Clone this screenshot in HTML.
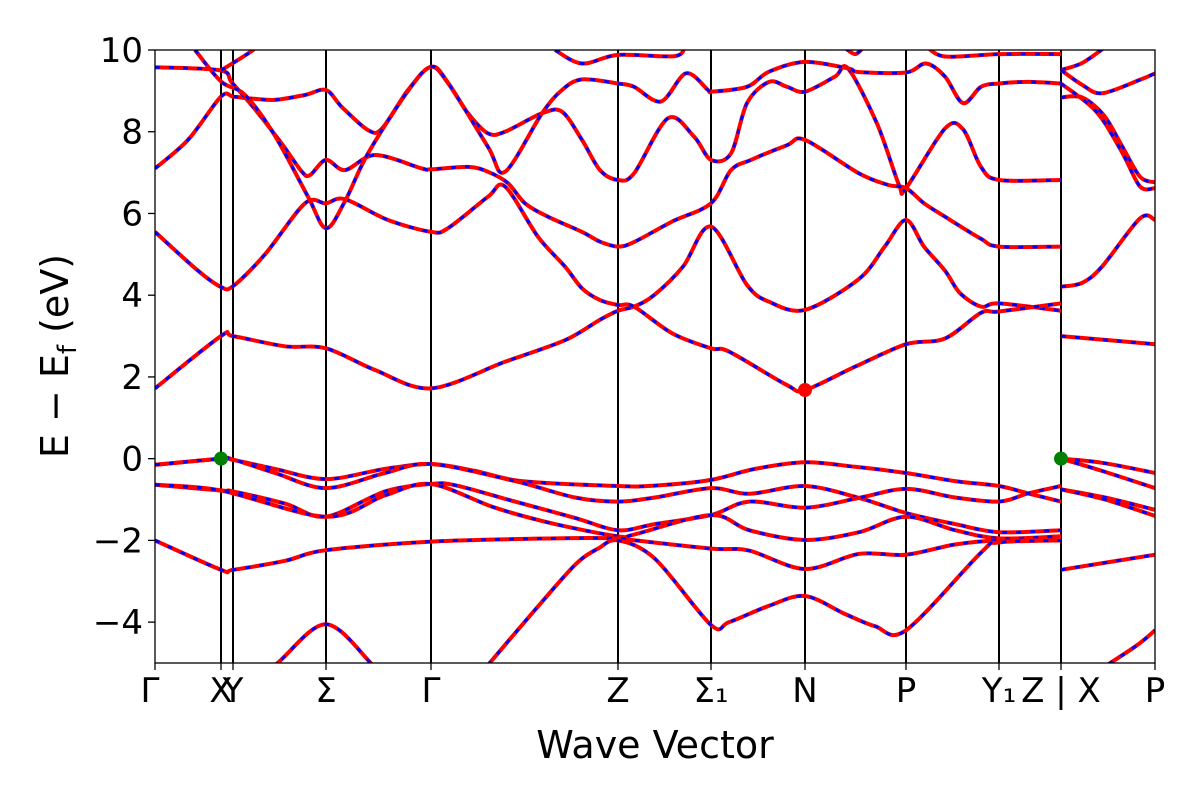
<!DOCTYPE html>
<html><head><meta charset="utf-8"><style>
html,body{margin:0;padding:0;background:#fff;width:1200px;height:800px;overflow:hidden}
svg text{font-family:"DejaVu Sans","Liberation Sans",sans-serif;fill:#000}
</style></head><body>
<svg id="chart" width="1200" height="800" viewBox="0 0 1200 800" xmlns="http://www.w3.org/2000/svg">
<defs><clipPath id="clip"><rect x="155" y="50" width="1000" height="613"/></clipPath></defs>
<g id="kpaths"></g>
<g id="bands" clip-path="url(#clip)"></g>
<g id="dots"></g>
<rect x="155" y="50" width="1000" height="613" fill="none" stroke="#000" stroke-width="1.3"/>
<g id="yticks"></g>
<g id="xticks"></g>
<text x="655" y="758" font-size="38" text-anchor="middle">Wave Vector</text>
<text transform="translate(68,356) rotate(-90)" font-size="38" text-anchor="middle">E − E<tspan font-size="26" dy="8">f</tspan><tspan dy="-8"> (eV)</tspan></text>
</svg>
<script>
const kTicks=[0,0.66,0.78,1.71,2.76,4.63,5.56,6.50,7.51,8.44,9.06,10];
const kLabels=["Γ","X","Y","Σ","Γ","Z","Σ₁","N","P","Y₁","Z | X","P"];
const yTickValues=[-4,-2,0,2,4,6,8,10];
const yMin=-5, yMax=10, kMin=0, kMax=10;
const bandsMain=[
[[0,1.72],[0.66,3.0],[0.78,3.0],[1.3,2.75],[1.71,2.7],[2.2,2.17],[2.76,1.72],[3.5,2.37],[4.1,2.9],[4.45,3.4],[4.63,3.62],[4.79,3.72],[4.99,4.0],[5.28,4.7],[5.56,5.68],[5.92,4.25],[6.14,3.84],[6.5,3.64],[7.04,4.4],[7.3,5.2],[7.51,5.84],[7.69,5.19],[7.9,4.6],[8.05,4.05],[8.26,3.72],[8.44,3.8],[9.06,3.62]],
[[0,5.55],[0.43,4.6],[0.66,4.2],[0.78,4.22],[1.1,5.0],[1.5,6.25],[1.71,6.25],[1.9,6.35],[2.33,5.84],[2.76,5.55],[2.93,5.64],[3.33,6.41],[3.5,6.66],[3.83,5.43],[4.1,4.7],[4.27,4.17],[4.45,3.88],[4.63,3.76],[4.79,3.72],[5.17,3.07],[5.56,2.7],[5.74,2.62],[6.32,1.8],[6.5,1.68],[7.0,2.25],[7.51,2.8],[7.9,2.94],[8.26,3.57],[8.44,3.6],[9.06,3.8]],
[[0,7.1],[0.33,7.8],[0.66,8.86],[0.78,8.86],[0.93,8.82],[1.2,8.78],[1.5,8.9],[1.71,9.02],[1.87,8.6],[2.13,8.04],[2.27,8.08],[2.53,9.02],[2.76,9.59],[2.93,9.19],[3.13,8.45],[3.33,7.96],[3.5,8.0],[3.87,8.45],[4.07,8.49],[4.27,7.8],[4.45,7.06],[4.63,6.82],[4.79,6.98],[5.13,8.33],[5.39,7.88],[5.56,7.31],[5.76,7.47],[5.92,8.7],[6.14,9.22],[6.32,9.1],[6.5,8.98],[6.8,9.35],[6.93,9.55],[7.22,8.2],[7.44,6.7],[7.51,6.62],[7.9,8.08],[8.08,8.06],[8.26,7.14],[8.44,6.82],[9.06,6.82]],
[[0,9.58],[0.66,9.5],[0.77,9.2],[1.0,8.55],[1.27,7.7],[1.47,7.02],[1.55,6.94],[1.71,7.31],[1.9,7.06],[2.2,7.43],[2.67,7.1],[2.76,7.08],[3.13,7.14],[3.33,7.02],[3.53,6.74],[3.7,6.25],[3.93,5.92],[4.27,5.55],[4.45,5.31],[4.63,5.19],[4.79,5.3],[5.17,5.8],[5.56,6.25],[5.76,7.06],[5.96,7.31],[6.32,7.67],[6.5,7.8],[7.04,6.98],[7.33,6.7],[7.51,6.62],[7.69,6.25],[7.9,5.92],[8.26,5.38],[8.44,5.19],[9.06,5.19]],
[[0.4,10.0],[0.66,9.23],[0.9,8.9],[1.2,7.9],[1.53,6.41],[1.71,5.64],[1.9,6.3],[2.13,7.47],[2.53,9.0],[2.76,9.59],[2.93,9.2],[3.33,7.63],[3.5,7.02],[3.87,8.45],[4.07,9.02],[4.27,9.28],[4.63,9.18],[4.79,9.1],[5.06,8.74],[5.31,9.43],[5.53,9.02],[5.56,8.98],[5.92,9.1],[6.14,9.47],[6.5,9.71],[6.93,9.55],[7.04,9.46],[7.51,9.45],[7.71,9.67],[7.9,9.35],[8.08,8.7],[8.26,9.1],[8.44,9.18],[8.73,9.22],[9.06,9.18]],
[[0.66,9.5],[0.97,9.98],[1.1,10.3]],
[[4.0,10.0],[4.27,9.67],[4.63,9.88],[5.2,9.85],[5.3,10.1]],
[[7.71,10.1],[7.9,9.84],[8.44,9.9],[9.06,9.9]],
[[6.9,10.05],[7.0,9.9],[7.08,10.05]],
[[0,-0.15],[0.66,0],[0.78,-0.03],[1.2,-0.25],[1.71,-0.5],[2.3,-0.25],[2.76,-0.13],[3.2,-0.3],[3.67,-0.55],[4.63,-0.67],[5.0,-0.66],[5.56,-0.52],[6.0,-0.25],[6.5,-0.09],[7.0,-0.2],[7.51,-0.35],[8.0,-0.55],[8.44,-0.67],[8.73,-0.85],[9.06,-1.05]],
[[0,-0.15],[0.66,0],[0.78,-0.02],[1.2,-0.35],[1.71,-0.72],[2.3,-0.35],[2.76,-0.13],[3.6,-0.55],[4.2,-0.95],[4.63,-1.05],[5.0,-0.95],[5.56,-0.72],[5.94,-0.86],[6.5,-0.67],[7.04,-0.96],[7.51,-1.33],[8.0,-1.6],[8.44,-1.8],[9.06,-1.75]],
[[0,-0.64],[0.66,-0.78],[0.78,-0.8],[1.3,-1.1],[1.71,-1.42],[2.3,-0.8],[2.76,-0.62],[3.0,-0.65],[3.6,-1.05],[4.2,-1.45],[4.63,-1.75],[5.0,-1.6],[5.56,-1.38],[5.94,-1.05],[6.5,-1.2],[7.04,-0.96],[7.51,-0.74],[8.0,-0.95],[8.44,-1.05],[8.73,-0.85],[9.06,-0.67]],
[[0,-0.64],[0.66,-0.78],[1.71,-1.42],[2.3,-0.9],[2.76,-0.62],[3.4,-1.2],[4.0,-1.6],[4.63,-1.9],[4.8,-1.85],[5.56,-1.38],[5.94,-1.75],[6.5,-1.99],[7.04,-1.8],[7.51,-1.42],[8.0,-1.75],[8.44,-1.95],[9.06,-1.9]],
[[0,-2.0],[0.66,-2.72],[0.78,-2.72],[1.3,-2.5],[1.71,-2.24],[2.76,-2.03],[4.0,-1.95],[4.63,-1.95],[4.8,-2.0],[5.56,-2.2],[5.94,-2.25],[6.5,-2.7],[7.04,-2.33],[7.51,-2.35],[8.0,-2.1],[8.44,-2.0],[9.06,-2.0]],
[[3.33,-5.05],[3.8,-3.7],[4.2,-2.6],[4.43,-2.2],[4.63,-2.0],[5.0,-2.45],[5.56,-4.07],[5.74,-4.0],[6.14,-3.6],[6.5,-3.36],[6.9,-3.8],[7.2,-4.1],[7.51,-4.2],[8.26,-2.3],[8.44,-2.05],[9.06,-2.0]],
[[0.9,-5.4],[1.2,-5.05],[1.71,-4.05],[2.2,-5.1],[2.4,-5.4]]
];
const bandsRight=[
[[9.06,0],[9.47,-0.1],[10,-0.35]],
[[9.06,0],[9.47,-0.3],[10,-0.72]],
[[9.06,-0.75],[9.5,-0.95],[10,-1.25]],
[[9.06,-0.75],[9.5,-1.0],[10,-1.4]],
[[9.06,-2.72],[10,-2.35]],
[[9.3,-5.4],[9.8,-4.6],[10,-4.2]],
[[9.06,3.0],[10,2.8]],
[[9.06,4.21],[9.27,4.3],[9.47,4.7],[9.85,5.88],[10,5.84]],
[[9.06,8.84],[9.27,8.84],[9.49,8.4],[9.67,7.65],[9.85,6.9],[10,6.76]],
[[9.06,9.18],[9.41,8.5],[9.67,7.5],[9.85,6.66],[10,6.62]],
[[9.06,9.51],[9.27,9.68],[9.49,10.05]],
[[9.06,9.51],[9.27,9.15],[9.47,8.94],[9.85,9.27],[10,9.43]]
];
const dotsK=[0.66,9.06,6.50];
const dotsE=[0,0,1.68];
const dotsColor=["#008000","#008000","#ff0000"];

const NS="http://www.w3.org/2000/svg";
const X0=155,X1=1155,Y0=663,Y1=50;
function sx(k){return X0+(k-kMin)/(kMax-kMin)*(X1-X0);}
function sy(e){return Y0-(e-yMin)/(yMax-yMin)*(Y0-Y1);}
function mk(tag,attrs,parent){const el=document.createElementNS(NS,tag);for(const a in attrs)el.setAttribute(a,attrs[a]);parent.appendChild(el);return el;}
function pathD(pts){
  const p=pts.map(q=>[sx(q[0]),sy(q[1])]);
  let d="M"+p[0][0].toFixed(1)+","+p[0][1].toFixed(1);
  for(let i=0;i<p.length-1;i++){
    const a=p[Math.max(i-1,0)],b=p[i],c=p[i+1],e=p[Math.min(i+2,p.length-1)];
    const t=0.16;
    const c1=[b[0]+(c[0]-a[0])*t,b[1]+(c[1]-a[1])*t];
    const c2=[c[0]-(e[0]-b[0])*t,c[1]-(e[1]-b[1])*t];
    c1[0]=Math.min(Math.max(c1[0],b[0]),c[0]);c2[0]=Math.min(Math.max(c2[0],b[0]),c[0]);
    d+="C"+c1[0].toFixed(1)+","+c1[1].toFixed(1)+" "+c2[0].toFixed(1)+","+c2[1].toFixed(1)+" "+c[0].toFixed(1)+","+c[1].toFixed(1);
  }
  return d;
}
const kp=document.getElementById("kpaths");
kTicks.forEach((k,i)=>{
  if(i===0||i===kTicks.length-1)return;
  const l=mk("line",{x1:sx(k),x2:sx(k),y1:Y1,y2:Y0,stroke:"#000","stroke-width":2},kp);
  
  
});
const bg=document.getElementById("bands");
bandsMain.concat(bandsRight).forEach((b,i)=>{
  const d=pathD(b);
  const r=mk("path",{d:d,fill:"none",stroke:"#ff0000","stroke-width":4,"stroke-linejoin":"round"},bg);
  
  
  const bl=mk("path",{d:d,fill:"none",stroke:"#0000ff","stroke-width":3,"stroke-dasharray":"5 9"},bg);
  
  
});
const dg=document.getElementById("dots");
dotsK.forEach((k,i)=>{
  const c=mk("circle",{cx:sx(k),cy:sy(dotsE[i]),r:7,fill:dotsColor[i]},dg);
  
  
});
const yt=document.getElementById("yticks");
yTickValues.forEach(v=>{
  const y=sy(v);
  const t=mk("line",{x1:X0-7,x2:X0,y1:y,y2:y,stroke:"#000","stroke-width":1.3},yt);
  
  
  const tx=mk("text",{x:X0-12,y:y+12,"font-size":34,"text-anchor":"end"},yt);
  tx.textContent=(v<0?"−":"")+Math.abs(v);
  
  
});
const xt=document.getElementById("xticks");
const labelShift=[-5,0,0,0,0,0,0,0,0,0,0,0];
kTicks.forEach((k,i)=>{
  const x=sx(k);
  const t=mk("line",{x1:x,x2:x,y1:Y0,y2:Y0+7,stroke:"#000","stroke-width":1.3},xt);
  
  
  const tx=mk("text",{x:x+labelShift[i],y:Y0+39,"font-size":34,"text-anchor":"middle"},xt);
  tx.textContent=kLabels[i];
  
  
});
</script>
</body></html>
